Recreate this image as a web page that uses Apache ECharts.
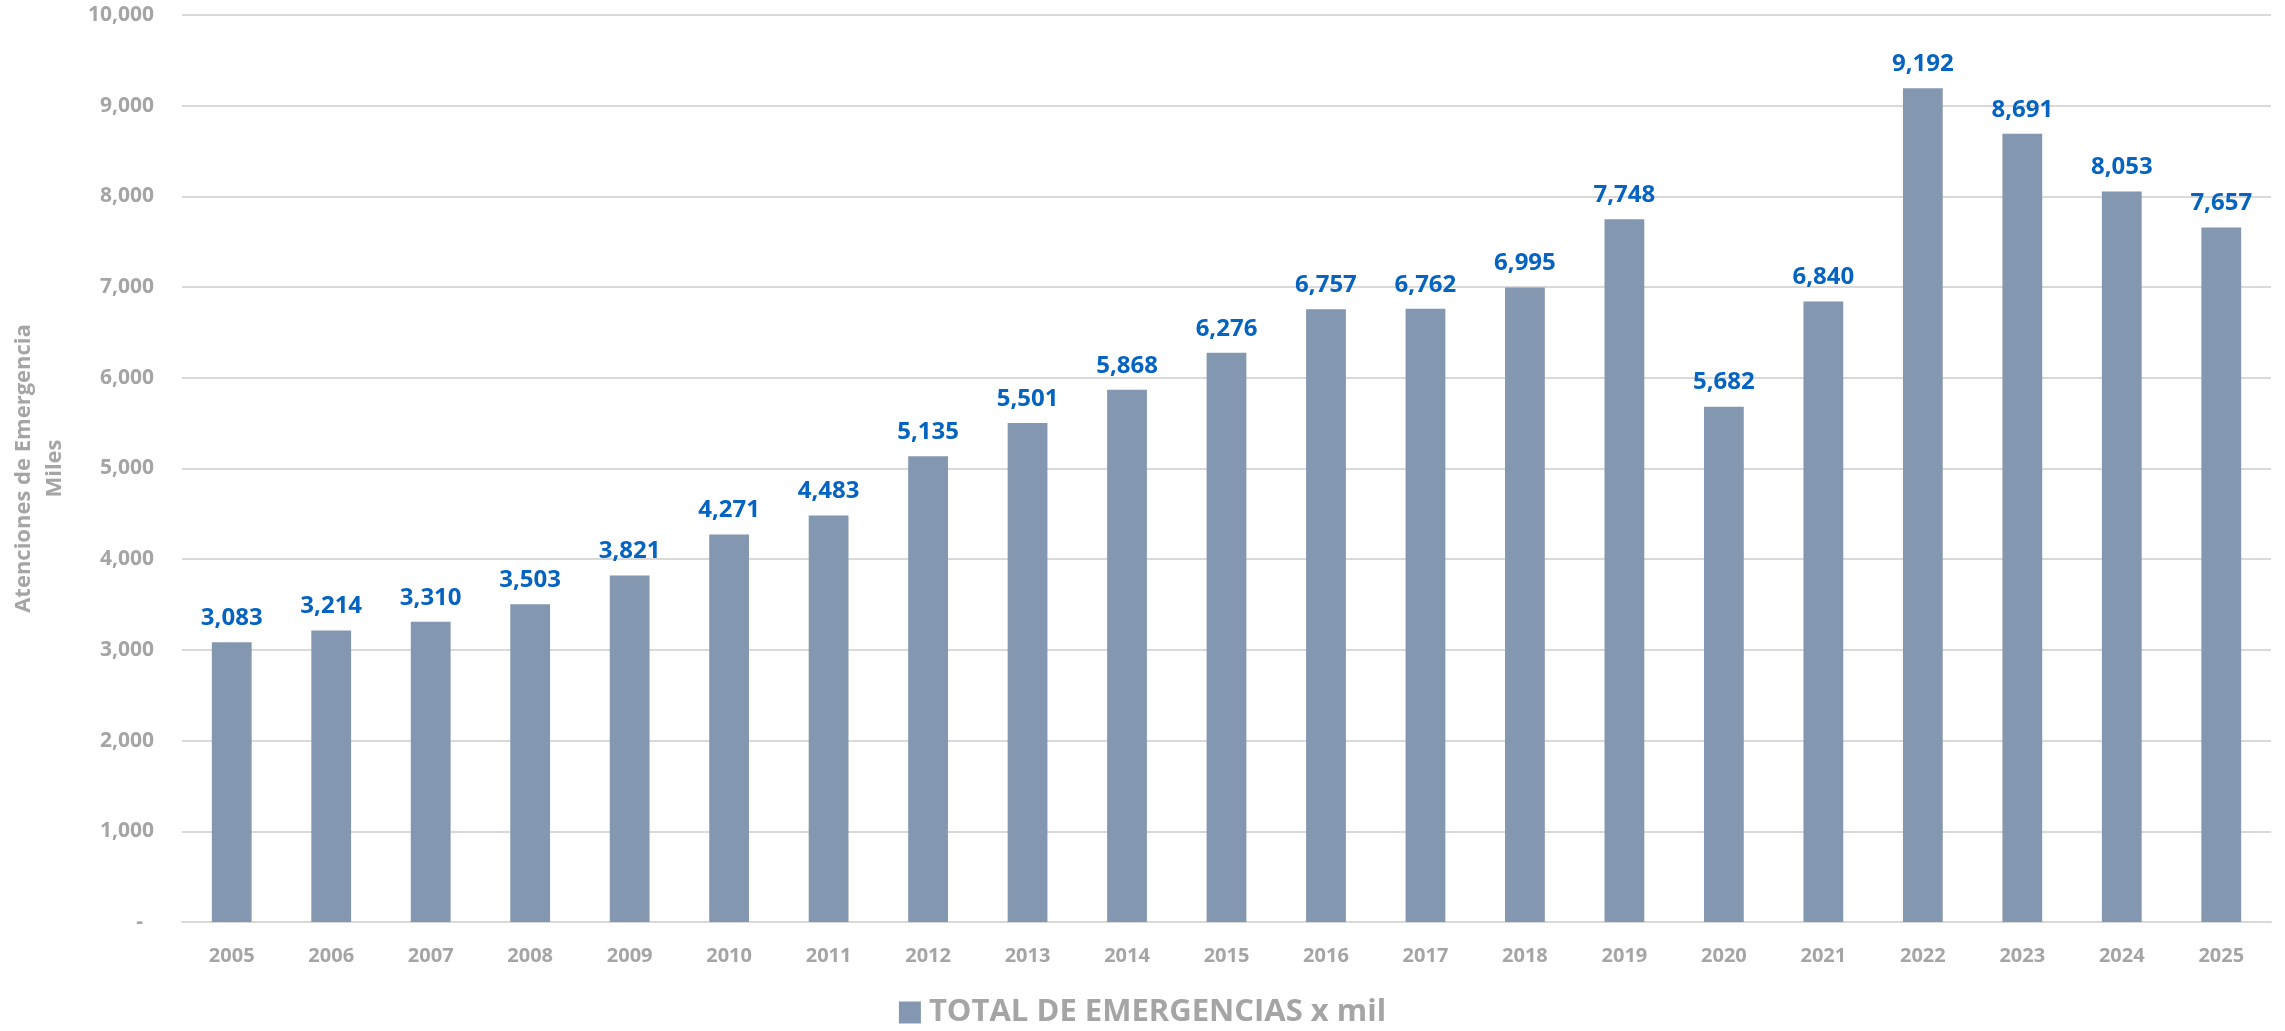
<!DOCTYPE html>
<html>
<head>
<meta charset="utf-8">
<script src="https://cdn.jsdelivr.net/npm/echarts@6/dist/echarts.min.js"></script>
<style>
  html, body { margin: 0; padding: 0; background: #fff; }
  #chart { width: 2285px; height: 1031px; }
</style>
</head>
<body>
<div id="chart"></div>
<script>
const years = ["2005", "2006", "2007", "2008", "2009", "2010", "2011", "2012", "2013", "2014", "2015",
  "2016", "2017", "2018", "2019", "2020", "2021", "2022", "2023", "2024", "2025"];
const totalEmergencias = [3083, 3214, 3310, 3503, 3821, 4271, 4483, 5135, 5501, 5868, 6276,
  6757, 6762, 6995, 7748, 5682, 6840, 9192, 8691, 8053, 7657];
const seriesName = "TOTAL DE EMERGENCIAS x mil";
const yAxisTitle = "Atenciones de Emergencia\nMiles";

const grey = "#a5a5a5";
const font = "Open Sans";
const fmt = (v) => (v === 0 ? "-  " : v.toLocaleString("en-US"));

const chart = echarts.init(document.getElementById("chart"));
chart.setOption({
  animation: false,
  backgroundColor: "#ffffff",
  textStyle: { fontFamily: font },
  grid: { left: 178, right: 14, top: 15, bottom: 109 },
  legend: {
    data: [seriesName],
    left: "center",
    top: 992,
    icon: "rect",
    itemWidth: 22,
    itemHeight: 22,
    textStyle: { color: grey, fontSize: 31, fontWeight: "bold", fontFamily: font, padding: [0, 0, 0, 3] },
  },
  xAxis: {
    type: "category",
    data: years,
    axisLine: { lineStyle: { color: "#d9d9d9", width: 2 } },
    axisTick: { show: false },
    axisLabel: { color: grey, fontSize: 20, fontWeight: "bold", margin: 24, fontFamily: font },
  },
  yAxis: {
    type: "value",
    min: 0,
    max: 10000,
    interval: 1000,
    name: yAxisTitle,
    nameLocation: "middle",
    nameRotate: 90,
    nameGap: 112,
    nameTextStyle: { color: grey, fontSize: 22, fontWeight: "bold", lineHeight: 31, fontFamily: font },
    axisLine: { show: false },
    axisTick: { show: false },
    axisLabel: { color: grey, fontSize: 21, fontWeight: "bold", margin: 28, formatter: fmt, fontFamily: font },
    splitLine: { lineStyle: { color: "#d9d9d9", width: 2 } },
  },
  series: [
    {
      name: seriesName,
      type: "bar",
      data: totalEmergencias,
      barWidth: "40%",
      itemStyle: { color: "#8497b0" },
      label: {
        show: true,
        position: "top",
        distance: 12,
        color: "#0563c1",
        fontSize: 24,
        fontWeight: "bold",
        fontFamily: font,
        formatter: (p) => fmt(p.value),
      },
    },
  ],
});
</script>
</body>
</html>
